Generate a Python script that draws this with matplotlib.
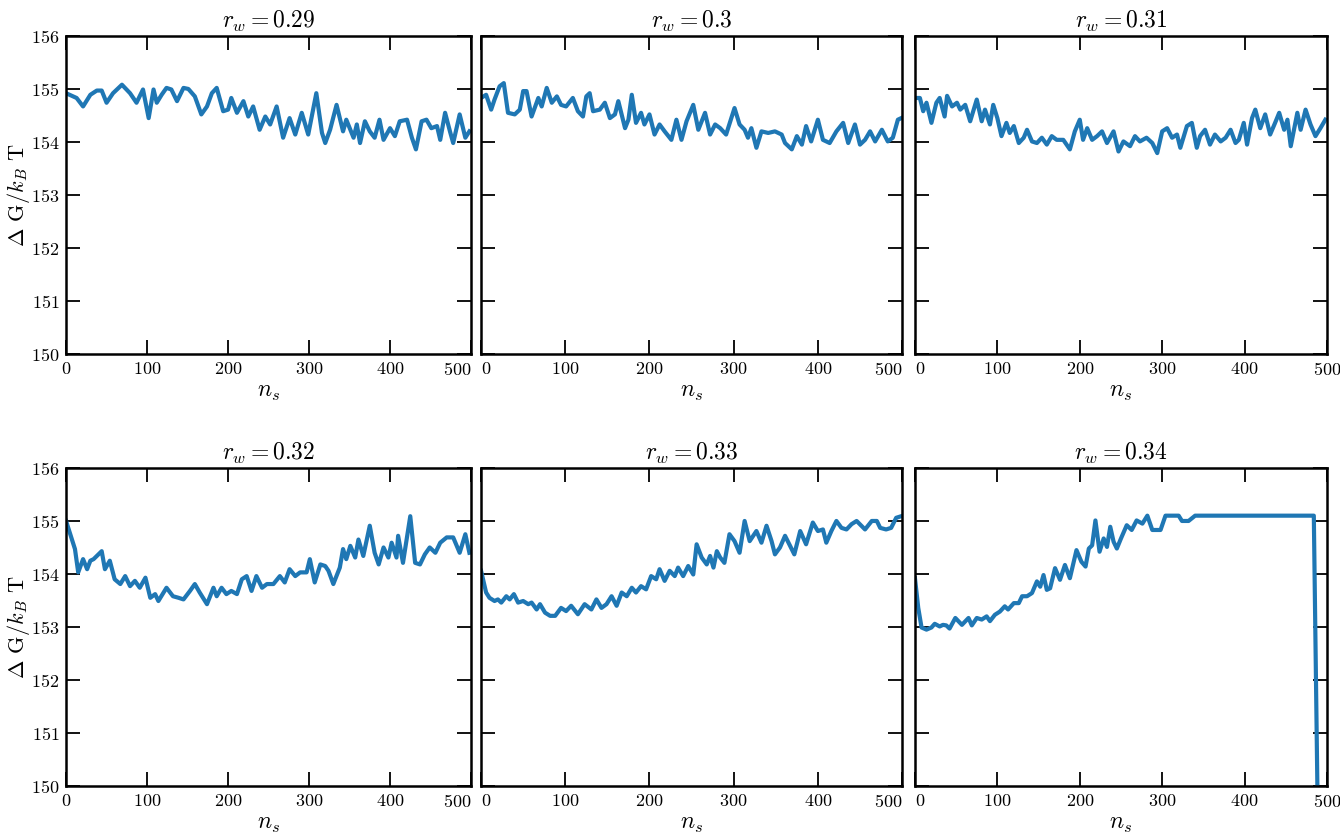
import matplotlib
matplotlib.use("Agg")
import matplotlib.pyplot as plt

plt.rcParams["font.family"] = "serif"
plt.rcParams["font.serif"] = ["cmr10"]
plt.rcParams["mathtext.fontset"] = "cm"
plt.rcParams["axes.formatter.use_mathtext"] = True

# r_w = 0.29
x_029 = [0, 13, 21, 30, 38, 44, 50, 58, 69, 79, 87, 95, 102, 108, 112, 118, 124, 130, 137, 145,
         151, 159, 167, 174, 180, 186, 194, 200, 204, 211, 219, 225, 231, 239, 246, 252, 260, 268, 276, 283,
         291, 299, 309, 316, 320, 326, 334, 342, 346, 355, 359, 363, 369, 375, 381, 387, 392, 400, 406, 412,
         421, 427, 432, 439, 445, 451, 458, 462, 468, 474, 478, 486, 493, 498]
g_029 = [154.92, 154.83, 154.67, 154.89, 154.97, 154.97, 154.74, 154.92, 155.08, 154.92,
         154.74, 154.99, 154.45, 154.99, 154.74, 154.89, 155.02, 154.99, 154.77, 155.02,
         155.0, 154.86, 154.52, 154.67, 154.92, 155.02, 154.58, 154.61, 154.83, 154.55,
         154.77, 154.48, 154.67, 154.23, 154.48, 154.33, 154.67, 154.08, 154.45, 154.14,
         154.55, 154.14, 154.92, 154.17, 153.98, 154.23, 154.70, 154.20, 154.42, 154.08,
         154.33, 153.98, 154.39, 154.20, 154.08, 154.42, 154.04, 154.26, 154.11, 154.39,
         154.42, 154.08, 153.86, 154.39, 154.42, 154.26, 154.30, 154.04, 154.55, 154.20,
         153.98, 154.52, 154.08, 154.20]

# r_w = 0.3
x_030 = [0, 6, 12, 16, 22, 27, 32, 40, 46, 50, 54, 60, 68, 72, 78, 84, 90, 95, 101, 109,
         115, 121, 125, 129, 133, 141, 147, 153, 159, 163, 171, 175, 179, 184, 190, 194, 200, 206, 212, 218,
         226, 232, 238, 244, 252, 258, 266, 272, 278, 284, 291, 301, 307, 313, 317, 321, 327, 333, 341, 349,
         357, 361, 369, 375, 381, 386, 392, 400, 406, 414, 422, 430, 436, 444, 450, 456, 462, 468, 476, 483,
         489, 495, 499]
g_030 = [154.83, 154.89, 154.61, 154.80, 155.05, 155.11, 154.55, 154.52, 154.61, 154.96,
         154.96, 154.48, 154.83, 154.67, 155.02, 154.74, 154.86, 154.70, 154.67, 154.83,
         154.58, 154.48, 154.86, 154.92, 154.58, 154.61, 154.74, 154.45, 154.52, 154.77,
         154.26, 154.42, 154.89, 154.36, 154.55, 154.33, 154.52, 154.14, 154.33, 154.20,
         154.04, 154.42, 154.04, 154.39, 154.70, 154.23, 154.55, 154.14, 154.33, 154.26,
         154.14, 154.64, 154.33, 154.23, 154.08, 154.26, 153.89, 154.20, 154.17, 154.20,
         154.14, 153.98, 153.86, 154.11, 153.95, 154.30, 154.01, 154.42, 154.04, 153.98,
         154.20, 154.36, 153.98, 154.33, 153.95, 154.04, 154.20, 154.01, 154.23, 154.01,
         154.08, 154.42, 154.45]

# r_w = 0.31
x_031 = [0, 6, 10, 14, 20, 26, 30, 36, 39, 45, 51, 55, 61, 67, 75, 81, 85, 91, 95, 100,
         105, 111, 115, 120, 126, 132, 136, 142, 148, 154, 160, 166, 172, 180, 188, 194, 200, 204, 209, 215,
         221, 227, 233, 241, 247, 253, 261, 267, 273, 281, 288, 294, 300, 306, 312, 318, 322, 330, 336, 342,
         346, 352, 358, 364, 371, 377, 383, 389, 393, 399, 403, 409, 413, 419, 425, 431, 437, 442, 448, 452,
         456, 464, 468, 474, 480, 486, 492, 498]
g_031 = [154.83, 154.83, 154.58, 154.74, 154.36, 154.74, 154.83, 154.48, 154.87, 154.67,
         154.74, 154.61, 154.70, 154.39, 154.80, 154.39, 154.61, 154.33, 154.70, 154.45,
         154.11, 154.36, 154.17, 154.30, 153.98, 154.08, 154.23, 154.01, 153.98, 154.08,
         153.95, 154.11, 154.04, 154.04, 153.86, 154.20, 154.42, 154.04, 154.26, 154.04,
         154.11, 154.20, 153.98, 154.20, 153.82, 154.01, 153.92, 154.11, 154.01, 154.08,
         153.98, 153.79, 154.20, 154.26, 154.08, 154.14, 153.89, 154.30, 154.36, 153.89,
         154.11, 154.23, 153.95, 154.14, 154.01, 154.08, 154.23, 153.98, 154.04, 154.36,
         153.95, 154.45, 154.61, 154.26, 154.52, 154.14, 154.36, 154.55, 154.23, 154.42,
         153.92, 154.55, 154.23, 154.61, 154.33, 154.11, 154.26, 154.42]

# r_w = 0.32
x_032 = [0, 11, 15, 21, 26, 30, 34, 40, 44, 48, 54, 60, 67, 73, 79, 85, 91, 98, 104, 110,
         114, 124, 132, 139, 145, 153, 159, 165, 174, 182, 186, 192, 198, 204, 211, 217, 223, 229, 235, 242,
         248, 256, 264, 270, 276, 283, 289, 297, 301, 307, 314, 320, 324, 330, 338, 342, 346, 351, 357, 361,
         367, 375, 381, 386, 392, 398, 402, 408, 410, 416, 425, 431, 437, 443, 449, 456, 462, 470, 478, 486,
         493, 498]
g_032 = [155.0, 154.47, 154.03, 154.28, 154.09, 154.25, 154.28, 154.37, 154.43, 154.09,
         154.25, 153.90, 153.81, 153.96, 153.77, 153.87, 153.74, 153.93, 153.55, 153.62,
         153.49, 153.74, 153.58, 153.55, 153.52, 153.68, 153.81, 153.65, 153.43, 153.74,
         153.58, 153.74, 153.62, 153.68, 153.62, 153.90, 153.96, 153.68, 153.96, 153.74,
         153.81, 153.81, 153.96, 153.84, 154.09, 153.96, 154.03, 154.03, 154.28, 153.84,
         154.18, 154.15, 154.06, 153.81, 154.12, 154.47, 154.28, 154.53, 154.31, 154.65,
         154.34, 154.91, 154.40, 154.18, 154.50, 154.31, 154.59, 154.31, 154.72, 154.21,
         155.09, 154.21, 154.18, 154.37, 154.50, 154.40, 154.59, 154.69, 154.69, 154.40,
         154.75, 154.40]

# r_w = 0.33
x_033 = [0, 6, 10, 16, 20, 24, 30, 34, 39, 44, 50, 56, 60, 66, 70, 76, 82, 88, 95, 101,
         107, 115, 123, 131, 137, 143, 149, 155, 161, 167, 173, 179, 184, 190, 196, 202, 208, 212, 218, 224,
         230, 234, 240, 246, 252, 256, 262, 268, 272, 276, 280, 284, 289, 295, 301, 307, 313, 319, 327, 333,
         339, 345, 349, 355, 361, 367, 372, 379, 386, 394, 400, 406, 410, 416, 422, 428, 434, 440, 446, 456,
         464, 470, 474, 481, 487, 493, 499]
g_033 = [154.06, 153.65, 153.55, 153.49, 153.52, 153.46, 153.58, 153.52, 153.62, 153.46,
         153.49, 153.43, 153.46, 153.33, 153.43, 153.27, 153.21, 153.21, 153.36, 153.30,
         153.40, 153.24, 153.43, 153.33, 153.52, 153.36, 153.43, 153.58, 153.40, 153.65,
         153.58, 153.74, 153.65, 153.77, 153.71, 153.96, 153.90, 154.09, 153.87, 154.06,
         153.96, 154.12, 153.96, 154.15, 153.99, 154.56, 154.31, 154.18, 154.34, 154.12,
         154.43, 154.31, 154.21, 154.75, 154.62, 154.40, 155.00, 154.62, 154.81, 154.59,
         154.91, 154.62, 154.37, 154.50, 154.72, 154.53, 154.37, 154.81, 154.56, 154.97,
         154.81, 154.84, 154.59, 154.81, 155.00, 154.87, 154.84, 154.94, 155.00, 154.84,
         155.00, 155.00, 154.87, 154.84, 154.87, 155.06, 155.09]

# r_w = 0.34
x_034 = [0, 4, 8, 14, 20, 24, 30, 34, 38, 42, 49, 57, 65, 69, 75, 81, 87, 91, 97, 103,
         109, 113, 120, 126, 130, 136, 142, 148, 152, 156, 160, 164, 170, 176, 182, 188, 196, 202, 207, 211,
         215, 219, 224, 229, 233, 237, 241, 245, 250, 257, 263, 269, 276, 282, 288, 294, 298, 304, 310, 320,
         324, 332, 340, 484, 490]
g_034 = [153.92, 153.36, 152.99, 152.95, 152.99, 153.06, 153.01, 153.04, 153.03, 152.97,
         153.17, 153.04, 153.17, 153.03, 153.17, 153.14, 153.20, 153.11, 153.23, 153.29,
         153.39, 153.33, 153.45, 153.45, 153.58, 153.58, 153.64, 153.86, 153.76, 153.98,
         153.70, 153.73, 154.11, 153.89, 154.17, 153.92, 154.45, 154.23, 154.14, 154.48,
         154.54, 155.01, 154.42, 154.67, 154.51, 154.89, 154.61, 154.48, 154.67, 154.92,
         154.83, 155.01, 154.95, 155.1, 154.83, 154.83, 154.83, 155.1, 155.1, 155.1,
         155.0, 155.0, 155.1, 155.1, 148.0]

titles = ["0.29", "0.3", "0.31", "0.32", "0.33", "0.34"]
series = [(x_029, g_029), (x_030, g_030), (x_031, g_031),
          (x_032, g_032), (x_033, g_033), (x_034, g_034)]

fig = plt.figure(figsize=(13.4, 8.4), dpi=100)

# panel boxes in figure fractions (left, width) per column, (bottom) per row
cols = [(0.0493, 0.3022), (0.3590, 0.3142), (0.6828, 0.3075)]
rows = [0.5786, 0.0643]
h = 0.3786

for i, (xs, gs) in enumerate(series):
    r, c = divmod(i, 3)
    ax = fig.add_axes([cols[c][0], rows[r], cols[c][1], h])
    ax.plot(xs, gs, color="#1f77b4", lw=3)
    ax.set_xlim(0, 500)
    ax.set_ylim(150, 156)
    ax.set_xticks([0, 100, 200, 300, 400, 500])
    ax.set_yticks([150, 151, 152, 153, 154, 155, 156])
    ax.tick_params(direction="in", top=True, right=True, length=10, width=1.3,
                   labelsize=13, pad=5)
    for s in ax.spines.values():
        s.set_linewidth(1.8)
    xl = ax.get_xticklabels()
    if c != 0:
        ax.set_yticklabels([])
        xl[0].set_horizontalalignment("left")
    if c != 2:
        xl[-1].set_horizontalalignment("right")
    if c == 0:
        ax.set_ylabel(r"$\Delta$ G/$k_B$ T", fontsize=16)
        ax.yaxis.set_label_coords(-0.085, 0.5)
    ax.set_xlabel(r"$n_s$", fontsize=17, labelpad=2)
    ax.set_title(r"$r_w = %s$" % titles[i], fontsize=17, pad=6)

fig.savefig("out.png", dpi=100)
